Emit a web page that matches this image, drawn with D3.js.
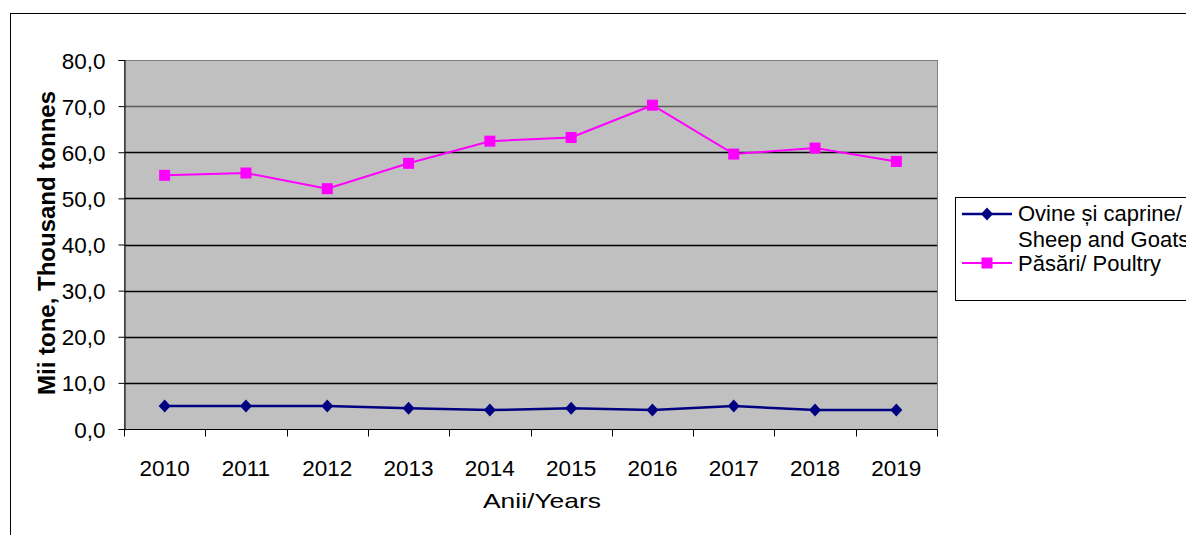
<!doctype html>
<html>
<head>
    <meta charset="UTF-8">
    <title>Productia de carne</title>
    <script src="https://d3js.org/d3.v7.min.js"></script>
    <style>
        body { margin: 0; background: #fff; }
        text { font-family: Arial, "Liberation Sans", sans-serif; fill: #000; }
        .tick text { font-size: 22.5px; }
    </style>
</head>
<body>
<script>
    var years = ["2010", "2011", "2012", "2013", "2014", "2015", "2016", "2017", "2018", "2019"];
    var sheepGoats = [5.0, 5.0, 5.0, 4.5, 4.1, 4.5, 4.1, 5.0, 4.1, 4.1];
    var poultry = [55.0, 55.5, 52.1, 57.6, 62.4, 63.2, 70.2, 59.6, 60.9, 58.0];
    var yTicks = [0, 10, 20, 30, 40, 50, 60, 70, 80];

    var width = 1186, height = 535;
    var plot = { left: 124, right: 937, top: 60, bottom: 429 };

    var svg = d3.select("body").append("svg")
        .attr("width", width)
        .attr("height", height);

    // outer chart frame (cut off right and bottom)
    svg.append("rect")
        .attr("x", 10.5).attr("y", 13.5)
        .attr("width", width + 20).attr("height", height + 20)
        .style("fill", "none").style("stroke", "#000").style("stroke-width", 1);

    var x = d3.scaleBand().domain(years).range([plot.left, plot.right]);
    var y = d3.scaleLinear().domain([0, 80]).range([plot.bottom, plot.top]);

    svg.append("rect")
        .attr("x", plot.left).attr("y", plot.top)
        .attr("width", plot.right - plot.left).attr("height", plot.bottom - plot.top)
        .style("fill", "#c0c0c0");

    // gridlines
    svg.selectAll(".grid")
        .data(yTicks.slice(1, -1))
        .enter().append("line")
        .attr("x1", plot.left).attr("x2", plot.right)
        .attr("y1", function (d) { return Math.round(y(d)) + 0.5; })
        .attr("y2", function (d) { return Math.round(y(d)) + 0.5; })
        .style("stroke", function (d) { return d === 70 ? "#5a5a5a" : "#000"; })
        .style("stroke-width", 1.3);

    // plot border (grey top/right)
    svg.append("rect")
        .attr("x", plot.left + 0.5).attr("y", plot.top + 0.5)
        .attr("width", plot.right - plot.left).attr("height", plot.bottom - plot.top)
        .style("fill", "none").style("stroke", "#808080");

    // y axis
    var yAxis = svg.append("g")
        .attr("transform", "translate(" + (plot.left + 0.5) + ",0)")
        .call(d3.axisLeft(y).tickValues(yTicks).tickSize(6).tickPadding(13)
            .tickFormat(function (d) { return d3.format(".1f")(d).replace(".", ","); }));
    yAxis.select(".domain").style("stroke", "#000");
    yAxis.selectAll(".tick line").style("stroke", "#000");
    yAxis.selectAll(".tick text").attr("dy", "0.36em");

    // x axis with ticks between categories
    var xAxisG = svg.append("g")
        .attr("transform", "translate(0," + (plot.bottom + 0.5) + ")");
    xAxisG.append("line")
        .attr("x1", plot.left).attr("x2", plot.right)
        .style("stroke", "#000");
    var bounds = years.map(function (d) { return x(d); }).concat([plot.right]);
    xAxisG.selectAll(".xt")
        .data(bounds)
        .enter().append("line")
        .attr("x1", function (d) { return Math.round(d) + 0.5; })
        .attr("x2", function (d) { return Math.round(d) + 0.5; })
        .attr("y1", 0).attr("y2", 7)
        .style("stroke", "#000");
    xAxisG.selectAll(".xl")
        .data(years)
        .enter().append("text")
        .attr("x", function (d) { return x(d) + x.bandwidth() / 2; })
        .attr("y", 46)
        .style("text-anchor", "middle")
        .style("font-size", "22.5px")
        .text(function (d) { return d; });

    // axis titles
    svg.append("text")
        .attr("transform", "translate(55,243) rotate(-90)")
        .style("text-anchor", "middle")
        .style("font-size", "24px")
        .style("font-weight", "700")
        .text("Mii tone, Thousand tonnes");

    svg.append("text")
        .attr("x", 483).attr("y", 508)
        .attr("textLength", 118)
        .attr("lengthAdjust", "spacingAndGlyphs")
        .style("font-size", "21px")
        .text("Anii/Years");

    var cx = function (d, i) { return x(years[i]) + x.bandwidth() / 2; };
    var line = d3.line()
        .x(function (d, i) { return cx(d, i); })
        .y(function (d) { return y(d); });

    var diamond = function (px, py) {
        return "M" + px + "," + (py - 6.5) + "L" + (px + 6) + "," + py +
            "L" + px + "," + (py + 6.5) + "L" + (px - 6) + "," + py + "Z";
    };

    // sheep and goats
    svg.append("path")
        .datum(sheepGoats)
        .attr("d", line)
        .style("fill", "none").style("stroke", "#000080").style("stroke-width", 2.5);
    svg.selectAll(".dia")
        .data(sheepGoats)
        .enter().append("path")
        .attr("d", function (d, i) { return diamond(cx(d, i), y(d)); })
        .style("fill", "#000080");

    // poultry
    svg.append("path")
        .datum(poultry)
        .attr("d", line)
        .style("fill", "none").style("stroke", "#ff00ff").style("stroke-width", 2);
    svg.selectAll(".sq")
        .data(poultry)
        .enter().append("rect")
        .attr("x", function (d, i) { return cx(d, i) - 5.5; })
        .attr("y", function (d) { return y(d) - 5.5; })
        .attr("width", 11).attr("height", 11)
        .style("fill", "#ff00ff");

    // legend
    var lg = svg.append("g");
    lg.append("rect")
        .attr("x", 955.5).attr("y", 197.5)
        .attr("width", 260).attr("height", 103)
        .style("fill", "#fff").style("stroke", "#000");

    lg.append("line")
        .attr("x1", 962).attr("x2", 1012).attr("y1", 214).attr("y2", 214)
        .style("stroke", "#000080").style("stroke-width", 2.5);
    lg.append("path")
        .attr("d", diamond(987, 214))
        .style("fill", "#000080");
    lg.append("text")
        .attr("x", 1018).attr("y", 221)
        .style("font-size", "22px")
        .text("Ovine și caprine/");
    lg.append("text")
        .attr("x", 1018).attr("y", 247)
        .style("font-size", "22px")
        .text("Sheep and Goats");

    lg.append("line")
        .attr("x1", 962).attr("x2", 1012).attr("y1", 263).attr("y2", 263)
        .style("stroke", "#ff00ff").style("stroke-width", 2);
    lg.append("rect")
        .attr("x", 981.5).attr("y", 257.5).attr("width", 11).attr("height", 11)
        .style("fill", "#ff00ff");
    lg.append("text")
        .attr("x", 1018).attr("y", 271)
        .style("font-size", "22px")
        .text("Păsări/ Poultry");
</script>
</body>
</html>
